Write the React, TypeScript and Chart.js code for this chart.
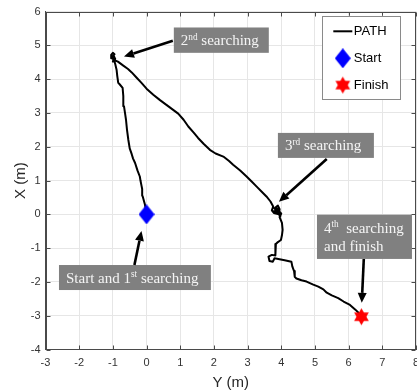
import React, { useEffect, useRef } from 'react';
import { Chart, registerables } from 'chart.js';

Chart.register(...registerables);

// ---------- axis ranges ----------
const horizontalRange = [-3, 8]; // "Y (m)"
const verticalRange = [-4, 6]; // "X (m)"
const horizontalTitle = 'Y (m)';
const verticalTitle = 'X (m)';

// ---------- path: leg 1 (start -> 2nd searching) ----------
const leg1Ym = [0.0, -0.05, -0.12, -0.13, -0.15, -0.18, -0.2, -0.27, -0.34, -0.4, -0.44, -0.5, -0.54, -0.58, -0.61, -0.64, -0.67, -0.69, -0.71, -0.8, -0.84, -0.87, -0.89, -0.93, -0.97, -1.03, -1.05, -1.0, -0.95, -1.02, -0.98, -0.93, -1.0, -0.96, -1.04, -0.92];
const leg1Xm = [0.0, 0.3, 0.55, 0.75, 0.85, 1.0, 1.12, 1.3, 1.52, 1.65, 1.78, 1.95, 2.2, 2.5, 2.8, 3.0, 3.2, 3.5, 3.74, 3.85, 3.89, 4.1, 4.28, 4.45, 4.58, 4.62, 4.72, 4.78, 4.74, 4.66, 4.7, 4.6, 4.52, 4.64, 4.68, 4.55];
// ---------- path: leg 2 (2nd -> 3rd searching) ----------
const leg2Ym = [-0.85, -0.69, -0.55, -0.44, -0.3, -0.15, 0.0, 0.2, 0.4, 0.59, 0.78, 0.94, 1.1, 1.24, 1.4, 1.53, 1.7, 1.88, 2.05, 2.28, 2.45, 2.57, 2.78, 2.97, 3.12, 3.27, 3.42, 3.56, 3.68, 3.76, 3.72, 3.78, 3.93, 3.95, 3.9, 3.8, 3.86, 3.74, 3.9, 3.97, 3.85, 4.0, 3.95];
const leg2Xm = [4.52, 4.4, 4.3, 4.2, 4.05, 3.89, 3.72, 3.54, 3.38, 3.24, 3.1, 2.98, 2.8, 2.6, 2.42, 2.26, 2.08, 1.91, 1.8, 1.71, 1.58, 1.47, 1.3, 1.12, 0.97, 0.82, 0.67, 0.53, 0.38, 0.23, 0.12, 0.04, 0.0, 0.15, 0.26, 0.18, 0.08, 0.1, 0.05, -0.06, 0.2, 0.02, -0.08];
// ---------- path: leg 3 (3rd searching -> finish) ----------
const leg3Ym = [4.02, 4.04, 4.02, 3.99, 3.9, 3.84, 3.83, 3.82, 3.72, 3.62, 3.65, 3.75, 3.8, 3.95, 4.1, 4.3, 4.33, 4.38, 4.4, 4.45, 4.6, 4.75, 4.95, 5.1, 5.25, 5.35, 5.5, 5.69, 5.85, 6.04, 6.2, 6.33, 6.38];
const leg3Xm = [-0.25, -0.46, -0.62, -0.76, -0.82, -0.88, -1.05, -1.22, -1.2, -1.25, -1.38, -1.4, -1.3, -1.33, -1.36, -1.4, -1.55, -1.68, -1.85, -1.9, -1.95, -1.99, -2.08, -2.14, -2.22, -2.32, -2.4, -2.48, -2.58, -2.68, -2.82, -2.95, -3.03];

const startYm = [0.0];
const startXm = [0.0];
const finishYm = [6.38];
const finishXm = [-3.03];

const seriesLabels = ['PATH', 'Start', 'Finish'];

// ---------- annotations (text) ----------
const note1Text = [[{ t: '2' }, { t: 'nd', sup: true }, { t: ' searching' }]];
const note2Text = [[{ t: '3' }, { t: 'rd', sup: true }, { t: ' searching' }]];
const note3Text = [[{ t: 'Start and 1' }, { t: 'st', sup: true }, { t: ' searching' }]];
const note4Text = [[{ t: '4' }, { t: 'th', sup: true }, { t: '  searching' }], [{ t: 'and finish' }]];

// annotation placement in data units: box [x0, y0, x1, y1], arrow tail, arrow head
const notes = [
  { text: note1Text, box: [0.81, 5.53, 3.63, 4.78], tail: [0.78, 5.14], head: [-0.67, 4.67] },
  { text: note2Text, box: [3.9, 2.41, 6.75, 1.67], tail: [5.35, 1.64], head: [3.93, 0.37] },
  { text: note3Text, box: [-2.6, -1.5, 1.91, -2.24], tail: [-0.36, -1.5], head: [-0.15, -0.49] },
  { text: note4Text, box: [5.06, -0.01, 7.88, -1.32], tail: [6.45, -1.32], head: [6.39, -2.62] },
];

function toPoints(xs: number[], ys: number[]) {
  return xs.map((x, i) => ({ x, y: ys[i] }));
}

function makeDiamond(w: number, h: number, color: string) {
  const c = document.createElement('canvas');
  c.width = w;
  c.height = h;
  const g = c.getContext('2d')!;
  g.fillStyle = color;
  g.beginPath();
  g.moveTo(w / 2, 0);
  g.lineTo(w, h / 2);
  g.lineTo(w / 2, h);
  g.lineTo(0, h / 2);
  g.closePath();
  g.fill();
  return c;
}

function makeHexagram(r: number, color: string) {
  const w = Math.ceil(2 * r * Math.cos(Math.PI / 6)) + 2;
  const h = 2 * r + 2;
  const c = document.createElement('canvas');
  c.width = w;
  c.height = h;
  const g = c.getContext('2d')!;
  g.fillStyle = color;
  const cx = w / 2, cy = h / 2;
  for (const start of [-90, 90]) {
    g.beginPath();
    for (let k = 0; k < 3; k++) {
      const a = ((start + k * 120) * Math.PI) / 180;
      const px = cx + r * Math.cos(a), py = cy + r * Math.sin(a);
      if (k === 0) g.moveTo(px, py);
      else g.lineTo(px, py);
    }
    g.closePath();
    g.fill();
  }
  return c;
}

function drawRich(ctx: CanvasRenderingContext2D, segs: any[], x: number, y: number, size: number) {
  let cx = x;
  for (const s of segs) {
    const fs = s.sup ? size * 0.62 : size;
    ctx.font = `${fs}px "Liberation Serif"`;
    ctx.fillText(s.t, cx, s.sup ? y - size * 0.36 : y);
    cx += ctx.measureText(s.t).width;
  }
}

function drawArrow(ctx: CanvasRenderingContext2D, x0: number, y0: number, x1: number, y1: number) {
  const ang = Math.atan2(y1 - y0, x1 - x0);
  const hl = 10, hw = 4.5;
  const bx = x1 - hl * Math.cos(ang), by = y1 - hl * Math.sin(ang);
  ctx.strokeStyle = '#000';
  ctx.fillStyle = '#000';
  ctx.lineWidth = 2.6;
  ctx.beginPath();
  ctx.moveTo(x0, y0);
  ctx.lineTo(bx, by);
  ctx.stroke();
  ctx.beginPath();
  ctx.moveTo(x1, y1);
  ctx.lineTo(bx + hw * Math.sin(ang), by - hw * Math.cos(ang));
  ctx.lineTo(bx - hw * Math.sin(ang), by + hw * Math.cos(ang));
  ctx.closePath();
  ctx.fill();
}

const overlayPlugin = {
  id: 'overlay',
  afterDraw(chart: any) {
    const { ctx, chartArea: a, scales } = chart;
    const xs = scales.x, ys = scales.y;
    ctx.save();
    // frame box and inward ticks
    const L = Math.round(a.left) + 0.5, R = Math.round(a.right) - 0.5;
    const T = Math.round(a.top) + 0.5, B = Math.round(a.bottom) - 0.5;
    ctx.strokeStyle = '#4a4a4a';
    ctx.lineWidth = 1;
    ctx.strokeRect(L, T, R - L, B - T);
    const tl = 4;
    ctx.beginPath();
    for (const t of xs.ticks) {
      const p = Math.round(xs.getPixelForValue(t.value)) + 0.5;
      ctx.moveTo(p, B); ctx.lineTo(p, B - tl);
      ctx.moveTo(p, T); ctx.lineTo(p, T + tl);
    }
    for (const t of ys.ticks) {
      const p = Math.round(ys.getPixelForValue(t.value)) + 0.5;
      ctx.moveTo(L, p); ctx.lineTo(L + tl, p);
      ctx.moveTo(R, p); ctx.lineTo(R - tl, p);
    }
    ctx.stroke();

    // annotations
    for (const n of notes) {
      const x0 = xs.getPixelForValue(n.box[0]);
      const y0 = ys.getPixelForValue(n.box[1]);
      const x1 = xs.getPixelForValue(n.box[2]);
      const y1 = ys.getPixelForValue(n.box[3]);
      ctx.fillStyle = '#808080';
      ctx.fillRect(x0, y0, x1 - x0, y1 - y0);
      ctx.fillStyle = '#f4f4f4';
      ctx.textAlign = 'left';
      ctx.textBaseline = 'alphabetic';
      const cy = (y0 + y1) / 2;
      const lh = 18.4;
      n.text.forEach((line: any[], i: number) => {
        const by = cy + 5 + (i - (n.text.length - 1) / 2) * lh;
        drawRich(ctx, line, x0 + 7, by, 15);
      });
      drawArrow(
        ctx,
        xs.getPixelForValue(n.tail[0]), ys.getPixelForValue(n.tail[1]),
        xs.getPixelForValue(n.head[0]), ys.getPixelForValue(n.head[1])
      );
    }

    // legend box
    const lx = a.right - 93.7, ly = a.top + 4.2, lw = 78.4, lhh = 83.3;
    ctx.fillStyle = '#ffffff';
    ctx.fillRect(lx, ly, lw, lhh);
    ctx.strokeStyle = '#8a8a8a';
    ctx.lineWidth = 1;
    ctx.strokeRect(Math.round(lx) + 0.5, Math.round(ly) + 0.5, Math.round(lw), Math.round(lhh));
    const rowY = [15.5, 42.5, 69.3];
    chart.data.datasets.forEach((ds: any, i: number) => {
      const y = ly + rowY[i];
      if (ds.showLine) {
        ctx.strokeStyle = ds.borderColor;
        ctx.lineWidth = 2;
        ctx.beginPath();
        ctx.moveTo(lx + 11, y);
        ctx.lineTo(lx + 30, y);
        ctx.stroke();
      } else {
        const img = ds.pointStyle;
        ctx.drawImage(img, lx + 20.5 - img.width / 2, y - img.height / 2);
      }
      ctx.fillStyle = '#000';
      ctx.font = '13px "Liberation Sans"';
      ctx.textAlign = 'left';
      ctx.textBaseline = 'middle';
      ctx.fillText(ds.label, lx + 31.5, y + 0.5);
    });
    ctx.restore();
  },
};

export default function App() {
  const ref = useRef<HTMLCanvasElement>(null);
  useEffect(() => {
    document.body.style.margin = '0';
    document.body.style.overflow = 'hidden';
    const diamond = makeDiamond(16, 20, '#0000ff');
    const star = makeHexagram(8.5, '#ff0000');
    const pathPoints = [
      ...toPoints(leg1Ym, leg1Xm),
      ...toPoints(leg2Ym, leg2Xm),
      ...toPoints(leg3Ym, leg3Xm),
    ];
    const chart = new Chart(ref.current!, {
      type: 'scatter',
      data: {
        datasets: [
          {
            label: seriesLabels[0],
            data: pathPoints,
            showLine: true,
            borderColor: '#000000',
            backgroundColor: '#000000',
            borderWidth: 2,
            borderJoinStyle: 'round',
            borderCapStyle: 'round',
            pointRadius: 0,
            tension: 0,
            order: 3,
          },
          {
            label: seriesLabels[1],
            data: toPoints(startYm, startXm),
            showLine: false,
            pointStyle: diamond as any,
            pointRadius: 10,
            order: 1,
          },
          {
            label: seriesLabels[2],
            data: toPoints(finishYm, finishXm),
            showLine: false,
            pointStyle: star as any,
            pointRadius: 8,
            order: 2,
          },
        ] as any,
      },
      options: {
        responsive: false,
        animation: false,
        events: [],
        layout: { padding: { top: 11.5, right: 14, bottom: 0, left: 0 } },
        plugins: {
          legend: { display: false },
          tooltip: { enabled: false },
        },
        scales: {
          x: {
            type: 'linear',
            min: horizontalRange[0],
            max: horizontalRange[1],
            afterFit: (s: any) => { s.height = 42.5; },
            ticks: {
              stepSize: 1,
              padding: 7,
              color: '#333333',
              font: { family: '"Liberation Sans"', size: 11 },
            },
            grid: { color: '#e6e6e6', drawTicks: false },
            border: { color: '#4a4a4a' },
            title: {
              display: true,
              text: horizontalTitle,
              color: '#262626',
              font: { family: '"Liberation Sans"', size: 15 },
              padding: { top: 0, bottom: 0 },
            },
          },
          y: {
            type: 'linear',
            min: verticalRange[0],
            max: verticalRange[1],
            afterFit: (s: any) => { s.width = 45.5; },
            ticks: {
              stepSize: 1,
              padding: 5,
              color: '#333333',
              font: { family: '"Liberation Sans"', size: 11 },
            },
            grid: { color: '#e6e6e6', drawTicks: false },
            border: { color: '#4a4a4a' },
            title: {
              display: true,
              text: verticalTitle,
              color: '#262626',
              font: { family: '"Liberation Sans"', size: 15 },
              padding: { top: 12, bottom: 0 },
            },
          },
        },
      } as any,
      plugins: [overlayPlugin],
    });
    return () => chart.destroy();
  }, []);
  return (
    <div style={{ position: 'fixed', left: 0, top: 0, width: 430, height: 392 }}>
      <canvas ref={ref} width={430} height={392} style={{ display: 'block', width: 430, height: 392 }} />
    </div>
  );
}
